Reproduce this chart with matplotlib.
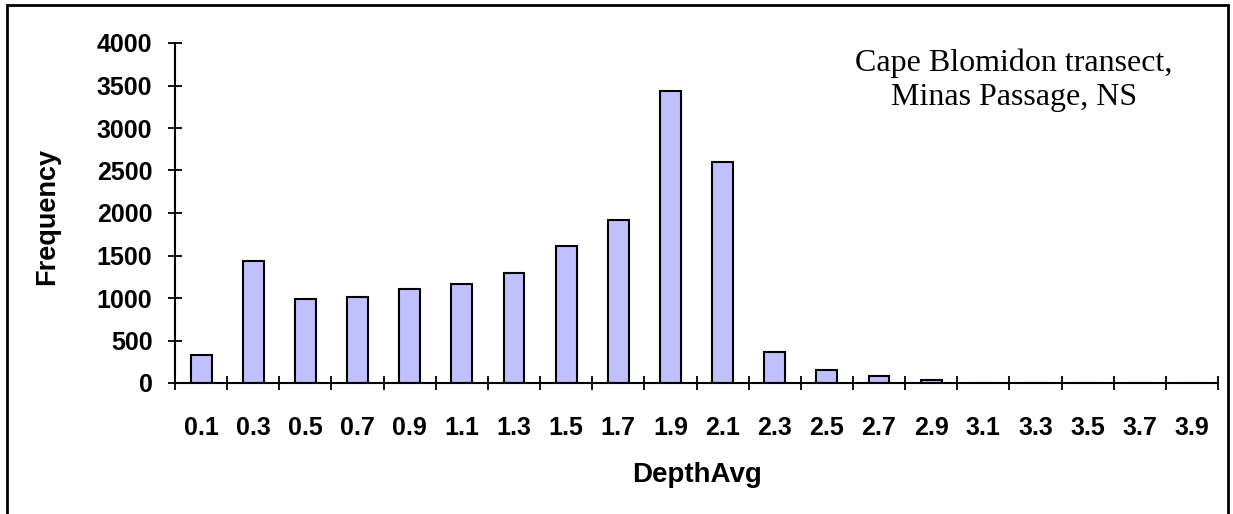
import matplotlib.pyplot as plt
import matplotlib.patches as patches
import numpy as np

labels = ['0.1', '0.3', '0.5', '0.7', '0.9', '1.1', '1.3', '1.5', '1.7', '1.9',
          '2.1', '2.3', '2.5', '2.7', '2.9', '3.1', '3.3', '3.5', '3.7', '3.9']
freq = [325, 1435, 990, 1015, 1105, 1170, 1290, 1615, 1915, 3440,
        2605, 360, 150, 85, 30, 0, 0, 0, 0, 0]

plt.rcParams['font.family'] = 'Liberation Sans'

W, H = 1233, 514
fig = plt.figure(figsize=(W / 100, H / 100), dpi=100)
ax = fig.add_axes([175 / W, 1 - 383 / H, (1218 - 175) / W, (383 - 43) / H])

x = np.arange(len(labels))
ax.bar(x, freq, width=0.4, color='#C0C0FF', edgecolor='black', linewidth=1.5)

ax.set_xlim(-0.5, len(labels) - 0.5)
ax.set_ylim(0, 4000)
ax.set_yticks(np.arange(0, 4001, 500))
# ticks sit between the categories, labels sit under the bars
ax.set_xticks(np.arange(len(labels) + 1) - 0.5)
ax.set_xticklabels([])
ax.set_xticks(x, minor=True)
ax.set_xticklabels(labels, minor=True)

for s in ['top', 'right']:
    ax.spines[s].set_visible(False)
for s in ['left', 'bottom']:
    ax.spines[s].set_linewidth(1.5)

ax.tick_params(axis='both', which='major', direction='inout', length=10.5, width=1.3)
ax.tick_params(axis='y', which='major', pad=11, labelsize=18)
ax.tick_params(axis='x', which='minor', length=0, pad=24, labelsize=18)
for t in ax.get_yticklabels() + ax.get_xticklabels(minor=True):
    t.set_fontweight('bold')

ax.set_xlabel('DepthAvg', fontsize=20, fontweight='bold')
ax.set_ylabel('Frequency', fontsize=19.5, fontweight='bold')
ax.xaxis.set_label_coords(0.5, (383 - 462) / (383 - 43))
ax.yaxis.set_label_coords((60 - 175) / (1218 - 175), 0.49)

fig.text(1014 / W, 1 - 80 / H, 'Cape Blomidon transect,\nMinas Passage, NS',
         ha='center', va='center', fontsize=23, family='Liberation Serif', linespacing=1.25)

# outer chart frame, open at the bottom of the image
frame = patches.Rectangle((7 / W, -0.1), (1228 - 7) / W, 1.1 - 5 / H,
                          transform=fig.transFigure, fill=False, edgecolor='black',
                          linewidth=2, clip_on=False)
fig.patches.append(frame)

fig.savefig('out.png', dpi=100)
